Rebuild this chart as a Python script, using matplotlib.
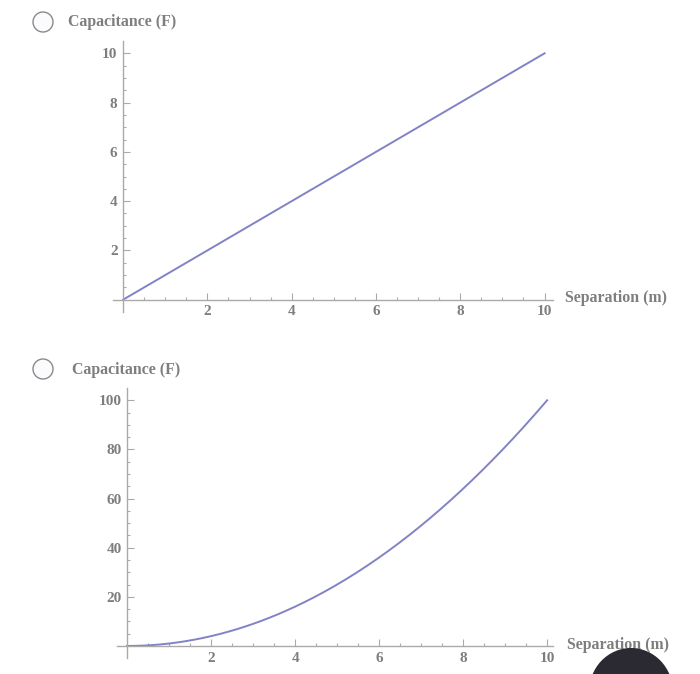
import numpy as np
import matplotlib.pyplot as plt
from matplotlib.patches import Circle, Ellipse

# data
sep = np.linspace(0, 10, 201)
cap_linear = sep          # top panel: C grows linearly to 10 F
cap_square = sep ** 2     # bottom panel: C grows to 100 F

top_xticks = [2, 4, 6, 8, 10]
top_yticks = [2, 4, 6, 8, 10]
bot_xticks = [2, 4, 6, 8, 10]
bot_yticks = [20, 40, 60, 80, 100]

W, H = 700, 674
LINE = '#8282c6'
AXC = '#aaaaaa'
TXT = '#7e7e7e'
FONT = 'Liberation Serif'

fig = plt.figure(figsize=(W / 100, H / 100), dpi=100)
fig.patch.set_facecolor('white')


def px_axes(left, top, right, bottom):
    return fig.add_axes([left / W, 1 - bottom / H, (right - left) / W, (bottom - top) / H])


def setup(ax, xlim, ylim, xticks, yticks, xminor, yminor):
    ax.set_xlim(*xlim)
    ax.set_ylim(*ylim)
    ax.patch.set_alpha(0)
    for s in ['top', 'right']:
        ax.spines[s].set_visible(False)
    ax.spines['left'].set_position(('data', 0))
    ax.spines['bottom'].set_position(('data', 0))
    for s in ['left', 'bottom']:
        ax.spines[s].set_color(AXC)
        ax.spines[s].set_linewidth(1.0)
    ax.set_xticks(xticks)
    ax.set_yticks(yticks)
    ax.set_xticks(np.arange(xminor, xlim[1], xminor), minor=True)
    ax.set_yticks(np.arange(yminor, ylim[1], yminor), minor=True)
    ax.tick_params(which='both', direction='in', color=AXC, width=0.8)
    ax.tick_params(which='major', length=5, labelsize=11, labelcolor=TXT, pad=4)
    ax.tick_params(which='minor', length=2.5)
    for lab in ax.get_xticklabels() + ax.get_yticklabels():
        lab.set_fontfamily(FONT)
        lab.set_fontweight('bold')


# top panel
ax1 = px_axes(113, 41, 553, 312)
setup(ax1, (-0.24, 10.2), (-0.5, 10.5), top_xticks, top_yticks, 0.5, 0.5)
ax1.plot(sep, cap_linear, color=LINE, lw=1.4, clip_on=False)

# bottom panel
ax2 = px_axes(117, 388, 553, 658)
setup(ax2, (-0.24, 10.14), (-4.9, 105), bot_xticks, bot_yticks, 0.5, 5)
ax2.plot(sep, cap_square, color=LINE, lw=1.4, clip_on=False)

tkw = dict(color=TXT, fontsize=11.4, family=FONT, fontweight='bold', va='center')
fig.text(68 / W, 1 - 22 / H, 'Capacitance (F)', **tkw)
fig.text(72 / W, 1 - 370 / H, 'Capacitance (F)', **tkw)
fig.text(565 / W, 1 - 298 / H, 'Separation (m)', **tkw)
fig.text(567 / W, 1 - 645 / H, 'Separation (m)', **tkw)

# radio buttons
for cy in (22, 369):
    fig.patches.append(Circle((43, H - cy), 10, transform=None, fill=True,
                              facecolor='#fbfbfd', edgecolor='#8a8a8a', lw=1.0))

# dark blob in the lower right corner of the photo
fig.patches.append(Ellipse((631, H - 692), 84, 88, transform=None,
                           facecolor='#2b2a33', edgecolor='none', zorder=5))

fig.savefig('out.png', dpi=100)
